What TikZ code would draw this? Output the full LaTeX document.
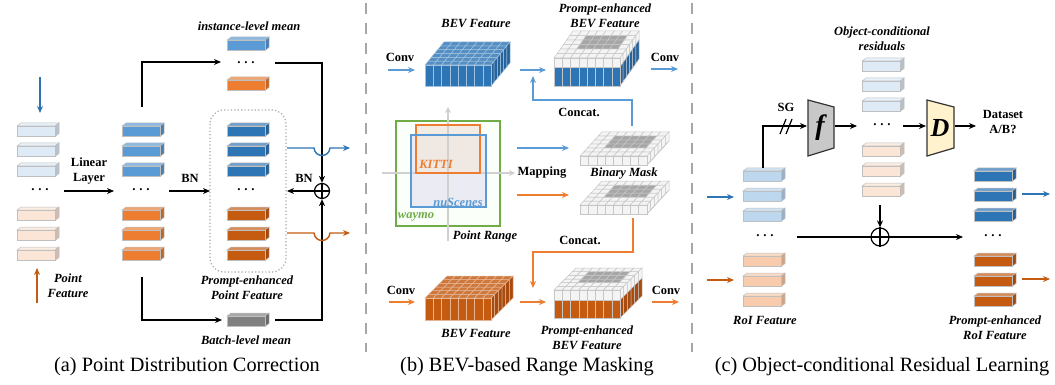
\documentclass[tikz,border=0pt]{standalone}
\usepackage{fontspec}
\setmainfont{Liberation Serif}
\usetikzlibrary{arrows.meta,calc}

\definecolor{lblue}{HTML}{DEEBF7}
\definecolor{lorange}{HTML}{FBE5D6}
\definecolor{mblue}{HTML}{5B9BD5}
\definecolor{morange}{HTML}{ED7D31}
\definecolor{dblue}{HTML}{2E75B6}
\definecolor{dorange}{HTML}{C55A11}
\definecolor{rblue}{HTML}{BDD7EE}
\definecolor{rorange}{HTML}{F8CBAD}
\definecolor{meangray}{HTML}{808080}
\definecolor{barline}{HTML}{BFBFBF}
\definecolor{maskgray}{HTML}{A6A6A6}
\definecolor{cellwhite}{HTML}{F4F4F4}
\definecolor{kgreen}{HTML}{70AD47}
\definecolor{axisgray}{HTML}{D0D0D0}
\definecolor{sepgray}{HTML}{A6A6A6}
\definecolor{fgray}{HTML}{C8C8C8}
\definecolor{dyellow}{HTML}{FFF2CC}

\tikzset{
  lbl/.style={font=\fontsize{12.5}{15}\selectfont\bfseries\itshape, align=center, inner sep=0pt},
  bl/.style={font=\fontsize{12.5}{15}\selectfont\bfseries, align=center, inner sep=0pt},
  captxt/.style={font=\fontsize{20.3}{24}\selectfont, inner sep=0pt},
  dotsnode/.style={font=\fontsize{13}{13}\selectfont\bfseries, inner sep=0pt},
  arr/.style={-{Stealth[length=7pt,width=6pt]}, line width=1.4pt},
  oplus/.style={circle, draw, line width=1.2pt, inner sep=0pt},
  seprule/.style={sepgray, line width=2.6pt, dash pattern=on 11pt off 9pt},
}

\newcommand{\threedots}{.\hspace{3.8pt}.\hspace{3.8pt}.}

% a flat 3-D feature bar: front top-left corner and colour
\newcommand{\featbar}[3]{%
  \filldraw[fill=#3!70!white, draw=barline, line width=0.5pt]
    (#1,#2) -- ++(4,-3) -- ++(38,0) -- ++(-4,3) -- cycle;
  \filldraw[fill=#3!82!black, draw=barline, line width=0.5pt]
    ({#1+38},#2) -- ++(4,-3) -- ++(0,10.5) -- ++(-4,3) -- cycle;
  \filldraw[fill=#3, draw=barline, line width=0.5pt]
    (#1,#2) rectangle ++(38,10.5);
}

% a gridded BEV block
% #1,#2 front top-left; #3 width; #4 light band height; #5 coloured band height;
% #6 colour; #7,#8 depth; #9 = 1 light top with grey mask, 0 coloured top
\newcommand{\gridblock}[9]{%
  \pgfmathsetmacro{\cw}{#3/8}%
  \pgfmathsetmacro{\rx}{#7/6}%
  \pgfmathsetmacro{\ry}{#8/6}%
  \ifnum#9=0 \colorlet{gridline}{white!55!#6}\else\colorlet{gridline}{gray!45}\fi
  \foreach \j in {0,...,5}{%
    \foreach \i in {0,...,7}{%
      \pgfmathtruncatemacro{\inmask}{(\i>=2)&&(\i<=6)&&(\j>=2)&&(\j<=4)}%
      \ifnum#9=0 \colorlet{cellc}{#6!82!white}\else
        \ifnum\inmask=1 \colorlet{cellc}{maskgray}\else\colorlet{cellc}{cellwhite}\fi
      \fi
      \filldraw[fill=cellc, draw=gridline, line width=0.5pt]
        ({#1+\i*\cw+\j*\rx}, {#2+\j*\ry}) -- ++(\cw,0) -- ++(\rx,\ry) -- ++({-\cw},0) -- cycle;
    }%
  }%
  \foreach \j in {0,...,5}{%
    \filldraw[fill=cellwhite, draw=gridline, line width=0.5pt]
      ({#1+#3+\j*\rx}, {#2+\j*\ry}) -- ++(\rx,\ry) -- ++(0,#4) -- ++({-\rx},{-\ry}) -- cycle;
    \filldraw[fill=#6!85!black, draw=gridline, line width=0.5pt]
      ({#1+#3+\j*\rx}, {#2+#4+\j*\ry}) -- ++(\rx,\ry) -- ++(0,#5) -- ++({-\rx},{-\ry}) -- cycle;
  }%
  \foreach \i in {0,...,7}{%
    \filldraw[fill=cellwhite, draw=gridline, line width=0.5pt]
      ({#1+\i*\cw},#2) rectangle ++(\cw,#4);
    \filldraw[fill=#6, draw=gridline, line width=0.5pt]
      ({#1+\i*\cw},{#2+#4}) rectangle ++(\cw,#5);
  }%
}

\begin{document}
\begin{tikzpicture}[x=1pt,y=-1pt]
\useasboundingbox (0,0) rectangle (1055,385);

%% ---------------- (a) Point Distribution Correction ----------------
\foreach \y in {126,146,166} {\featbar{17}{\y}{lblue}}
\foreach \y in {210,230,250} {\featbar{17}{\y}{lorange}}
\foreach \y in {126,146,166} {\featbar{122}{\y}{mblue}}
\foreach \y in {210,230,250} {\featbar{122}{\y}{morange}}
\foreach \y in {126,146,166} {\featbar{227}{\y}{dblue}}
\foreach \y in {210,230,250} {\featbar{227}{\y}{dorange}}
\featbar{227}{40}{mblue}
\featbar{227}{80}{morange}
\featbar{227}{316}{meangray}

\node[dotsnode] (dA1) at (40,190) {\threedots};
\node[dotsnode] (dA2) at (141,190) {\threedots};
\node[dotsnode] (dA3) at (246,190) {\threedots};
\node[dotsnode] (dA4) at (246,63) {\threedots};

\draw[gray!70, line width=1.2pt, dash pattern=on 1.2pt off 2.2pt, rounded corners=14pt]
  (210,110) rectangle (286,272);

\coordinate (inB1) at (40,77);   \coordinate (inB2) at (40,113);
\coordinate (inO1) at (37,303);  \coordinate (inO2) at (37,268);
\draw[arr, dblue] (inB1) -- (inB2);
\draw[arr, dorange] (inO1) -- (inO2);

\node[lbl] (ptfeat) at (68,286) {Point\\Feature};
\node[bl] (linlbl) at (89,171) {Linear\\Layer};
\coordinate (lin1) at (64,191); \coordinate (lin2) at (114,191);
\draw[arr] (lin1) -- (lin2);
\node[bl] (bn1) at (190,178) {BN};
\coordinate (bnA) at (169,191); \coordinate (bnB) at (210,191);
\draw[arr] (bnA) -- (bnB);

\node[oplus, minimum size=15pt] (plusA) at (322,191) {};
\draw[line width=1.2pt] (plusA.north) -- (plusA.south) (plusA.west) -- (plusA.east);
\node[bl] (bn2) at (304,178) {BN};
\coordinate (bnOut) at (287,191);
\draw[arr] (plusA.west) -- (bnOut);

\coordinate (upS) at (142,107); \coordinate (upE) at (221,62);
\draw[arr] (upS) |- (upE);
\coordinate (dnS) at (142,277); \coordinate (dnE) at (222,320);
\draw[arr] (dnS) |- (dnE);
\coordinate (instR) at (275,63);
\draw[arr] (instR) -| (plusA.north);
\coordinate (batR) at (275,320);
\draw[arr] (batR) -| (plusA.south);

\node[lbl] (instlbl) at (249,26) {instance-level mean};
\node[lbl] (batlbl) at (246,340) {Batch-level mean};
\node[lbl] (pelbl) at (247,288) {Prompt-enhanced\\Point Feature};

\coordinate (hB0) at (287,148); \coordinate (hB1) at (350,148);
\draw[dblue, line width=1.4pt, -{Stealth[length=7pt,width=6pt]}]
  (hB0) -- (314,148) .. controls (315,158) and (329,158) .. (330,148) -- (hB1);
\coordinate (hO0) at (287,233); \coordinate (hO1) at (350,233);
\draw[dorange, line width=1.4pt, -{Stealth[length=7pt,width=6pt]}]
  (hO0) -- (314,233) .. controls (315,243) and (329,243) .. (330,233) -- (hO1);

\node[captxt] (capA) at (187,367) {(a) Point Distribution Correction};

%% ---------------- separators ----------------
\coordinate (s1t) at (366,3); \coordinate (s1b) at (366,352);
\coordinate (s2t) at (692,3); \coordinate (s2b) at (692,352);
\draw[seprule] (s1t) -- (s1b);
\draw[seprule] (s2t) -- (s2b);

%% ---------------- (b) BEV-based Range Masking ----------------
\gridblock{425}{65}{66}{0}{21}{dblue}{19}{-23}{0}
\gridblock{554}{58}{66}{9}{19}{dblue}{19}{-27}{1}
\gridblock{425}{298}{66}{0}{22}{dorange}{22}{-22}{0}
\gridblock{554}{290}{66}{10}{18}{dorange}{22}{-22}{1}
\gridblock{580}{156}{67}{9}{0}{cellwhite}{22}{-24}{1}
\gridblock{580}{205}{67}{9}{0}{cellwhite}{22}{-24}{1}

\node[lbl] (bevT) at (476,24) {BEV Feature};
\node[lbl] (peT) at (605,16) {Prompt-enhanced\\BEV Feature};
\node[bl] (convT1) at (400,57) {Conv};
\node[bl] (convT2) at (665,57) {Conv};
\draw[arr, mblue] (388,70) coordinate (cT1a) -- (415,70) coordinate (cT1b);
\draw[arr, mblue] (520,70) coordinate (mT1) -- (546,70) coordinate (mT2);
\draw[arr, mblue] (651,69) coordinate (cT2a) -- (678,69) coordinate (cT2b);

% point range chart
\filldraw[fill=black!4!green!2!white, draw=kgreen, line width=1.4pt] (396,121) rectangle (500,226);
\fill[fill=blue!30!gray!12] (411,135) rectangle (486,207);
\fill[fill=orange!40!gray!18, fill opacity=0.8] (416,125) rectangle (480,173);
\coordinate (axL) at (382,173); \coordinate (axR) at (515,173);
\coordinate (axB) at (448,241); \coordinate (axT) at (448,107);
\draw[axisgray, line width=1.3pt, -{Stealth[length=6pt,width=6pt]}] (axL) -- (axR);
\draw[axisgray, line width=1.3pt, -{Stealth[length=6pt,width=6pt]}] (axB) -- (axT);
\draw[morange, line width=1.4pt] (416,125) rectangle (480,173);
\draw[mblue, line width=1.4pt] (411,135) rectangle (486,207);
\node[lbl, text=morange] (kitti) at (436,164) {KITTI};
\node[lbl, text=mblue] (nusc) at (458,202) {nuScenes};
\node[lbl, text=kgreen] (waymo) at (416,217) {waymo};
\node[lbl] (prange) at (485,236) {Point Range};
\node[bl] (mapping) at (542,173) {Mapping};
\draw[arr, mblue] (517,148) coordinate (mpB1) -- (569,148) coordinate (mpB2);
\draw[arr, morange] (517,195) coordinate (mpO1) -- (569,195) coordinate (mpO2);
\node[lbl] (bmask) at (624,174) {Binary Mask};

\node[bl] (catT) at (579,112) {Concat.};
\coordinate (catB0) at (632,126); \coordinate (catB1) at (533,100); \coordinate (catB2) at (533,76);
\draw[arr, mblue] (catB0) |- (catB1) -- (catB2);
\node[bl] (catB) at (580,240) {Concat.};
\coordinate (catO0) at (633,218); \coordinate (catO1) at (533,252); \coordinate (catO2) at (533,288);
\draw[arr, morange] (catO0) |- (catO1) -- (catO2);

\node[bl] (convB1) at (401,290) {Conv};
\node[bl] (convB2) at (666,290) {Conv};
\draw[arr, morange] (389,302) coordinate (cB1a) -- (415,302) coordinate (cB1b);
\draw[arr, morange] (520,302) coordinate (mB1) -- (546,302) coordinate (mB2);
\draw[arr, morange] (652,302) coordinate (cB2a) -- (679,302) coordinate (cB2b);
\node[lbl] (bevB) at (476,334) {BEV Feature};
\node[lbl] (peB) at (587,338) {Prompt-enhanced\\BEV Feature};

\node[captxt] (capB) at (527,367) {(b) BEV-based Range Masking};

%% ---------------- (c) Object-conditional Residual Learning ----------------
\foreach \y in {171,191,211} {\featbar{743}{\y}{rblue}}
\foreach \y in {256,276,296} {\featbar{743}{\y}{rorange}}
\foreach \y in {171,191,211} {\featbar{974}{\y}{dblue}}
\foreach \y in {256,276,296} {\featbar{974}{\y}{dorange}}
\foreach \y in {61,81,101} {\featbar{862}{\y}{lblue}}
\foreach \y in {146,166,186} {\featbar{862}{\y}{lorange}}

\node[dotsnode] (dC1) at (765,236) {\threedots};
\node[dotsnode] (dC2) at (993,236) {\threedots};
\node[dotsnode] (dC3) at (882,125) {\threedots};

\node[lbl] (ocr) at (882,39) {Object-conditional\\residuals};

\filldraw[fill=fgray, draw=black!80, line width=1.2pt]
  (808,100) -- (834,107) -- (834,148) -- (808,156) -- cycle;
\node[font=\fontsize{28}{28}\selectfont\bfseries\itshape, inner sep=0pt] (flbl) at (820,128) {f};
\filldraw[fill=dyellow, draw=black!80, line width=1.2pt]
  (927,100) -- (954,107) -- (954,148) -- (927,156) -- cycle;
\node[font=\fontsize{26}{26}\selectfont\bfseries\itshape, inner sep=0pt] (dlbl) at (940,128) {D};

\node[bl] (sg) at (786,107) {SG};
\coordinate (sg0) at (763,168); \coordinate (sg1) at (807,126);
\draw[arr] (sg0) |- (sg1);
\draw[line width=1.2pt] (780,134) -- (786,119) (786,134) -- (792,119);
\draw[arr] (835,126) coordinate (f1) -- (857,126) coordinate (f2);
\draw[arr] (903,126) coordinate (r1) -- (926,126) coordinate (r2);
\draw[arr] (955,126) coordinate (d1) -- (976,126) coordinate (d2);
\node[bl] (dsab) at (1003,122) {Dataset\\A/B?};

\node[oplus, minimum size=18pt] (plusC) at (880,237) {};
\draw[line width=1.2pt] (plusC.north) -- (plusC.south) (plusC.west) -- (plusC.east);
\coordinate (mn0) at (797,237); \coordinate (mn1) at (963,237);
\draw[arr] (mn0) -- (mn1);
\coordinate (res0) at (880,205);
\draw[arr] (res0) -- (plusC.north);

\draw[arr, dblue] (707,197) coordinate (iB1) -- (734,197) coordinate (iB2);
\draw[arr, dorange] (707,280) coordinate (iO1) -- (734,280) coordinate (iO2);
\draw[arr, dblue] (1022,194) coordinate (oB1) -- (1050,194) coordinate (oB2);
\draw[arr, dorange] (1022,279) coordinate (oO1) -- (1050,279) coordinate (oO2);

\node[lbl] (roi) at (765,320) {RoI Feature};
\node[lbl] (peroi) at (995,328) {Prompt-enhanced\\RoI Feature};

\node[captxt] (capC) at (882,367) {(c) Object-conditional Residual Learning};
\end{tikzpicture}
\end{document}
